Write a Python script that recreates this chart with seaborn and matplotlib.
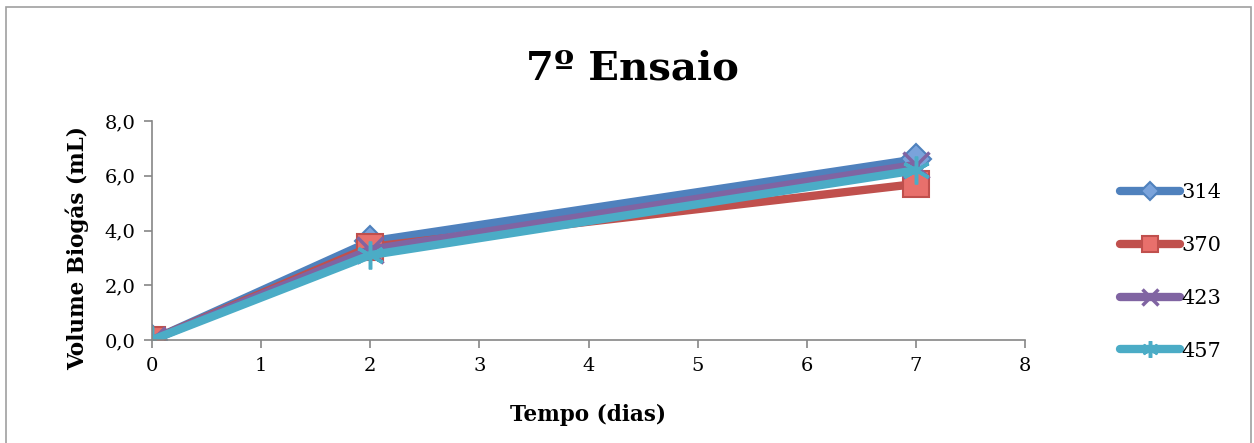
import matplotlib
matplotlib.use("Agg")
import matplotlib.pyplot as plt
from matplotlib.patches import Rectangle
from matplotlib.ticker import FuncFormatter
import seaborn as sns
import pandas as pd

dias = [0, 2, 7]
series_names = ["314", "370", "423", "457"]
v314 = [0.0, 3.6, 6.6]
v370 = [0.0, 3.4, 5.7]
v423 = [0.0, 3.3, 6.4]
v457 = [0.0, 3.1, 6.2]
values = [v314, v370, v423, v457]

title = "7º Ensaio"
xlabel = "Tempo (dias)"
ylabel = "Volume Biogás (mL)"

sns.set_theme(style="white")
plt.rcParams['font.family'] = ['DejaVu Serif']
plt.rcParams['text.color'] = 'black'
plt.rcParams['axes.labelcolor'] = 'black'
plt.rcParams['xtick.labelcolor'] = 'black'
plt.rcParams['ytick.labelcolor'] = 'black'

colors = {"314": "#4F81BD", "370": "#C0504D", "423": "#8064A2", "457": "#4BACC6"}
faces = {"314": "#7AA3DB", "370": "#E8706C", "423": "#8064A2", "457": "#4BACC6"}
markers = {"314": "D", "370": "s", "423": "x", "457": (6, 2, 0)}
msizes = {"314": 15, "370": 19, "423": 19, "457": 20}

fig = plt.figure(figsize=(12.54, 4.43), dpi=100)
ax = fig.add_axes([152/1254, 1-340/443, (1025-152)/1254, (340-121)/443])

for name, vals in zip(series_names, values):
    df = pd.DataFrame({"dias": dias, "vol": vals})
    m = markers[name]
    kw = dict(marker=m, markersize=msizes[name], linewidth=6,
              color=colors[name], solid_capstyle="round", label=name)
    if name in ("314", "370"):
        kw.update(markerfacecolor=faces[name], markeredgecolor=colors[name], markeredgewidth=1.5)
    else:
        kw.update(markeredgecolor=colors[name], markeredgewidth=2.5)
    sns.lineplot(data=df, x="dias", y="vol", ax=ax, legend=False, **kw)

ax.set_xlim(0, 8)
ax.set_ylim(0, 8)
ax.set_xticks(range(0, 9))
ax.set_yticks([0, 2, 4, 6, 8])
ax.yaxis.set_major_formatter(FuncFormatter(lambda v, p: f"{v:.1f}".replace(".", ",")))
for s in ["top", "right"]:
    ax.spines[s].set_visible(False)
for s in ["left", "bottom"]:
    ax.spines[s].set_color("#868686")
    ax.spines[s].set_linewidth(1.2)
ax.tick_params(axis="both", which="major", direction="out", length=6, width=1.2,
               color="#868686", labelsize=14, pad=6, bottom=True, left=True)
ax.set_xlabel(xlabel, fontsize=15.5, fontweight="bold")
ax.set_ylabel(ylabel, fontsize=15.5, fontweight="bold")
ax.xaxis.set_label_coords(0.5, -0.29)
ax.yaxis.set_label_coords(-(152 - 89) / 873, 0.42)

fig.text(632/1254, 1-68/443, title, ha="center", va="center", fontsize=29, fontweight="heavy")

handles, labels = ax.get_legend_handles_labels()
leg = fig.legend(handles, labels, loc="center left", bbox_to_anchor=(1101/1254, 1-272/443),
                 frameon=False, fontsize=15, handlelength=2.9, handletextpad=0.05,
                 labelspacing=1.62, markerscale=0.6)

fig.add_artist(Rectangle((6/1254, -0.05), (1251-6)/1254, 1.05 - 7/443, transform=fig.transFigure,
                         fill=False, edgecolor="#A0A0A0", linewidth=1.2))

fig.savefig("out.png", dpi=100)
